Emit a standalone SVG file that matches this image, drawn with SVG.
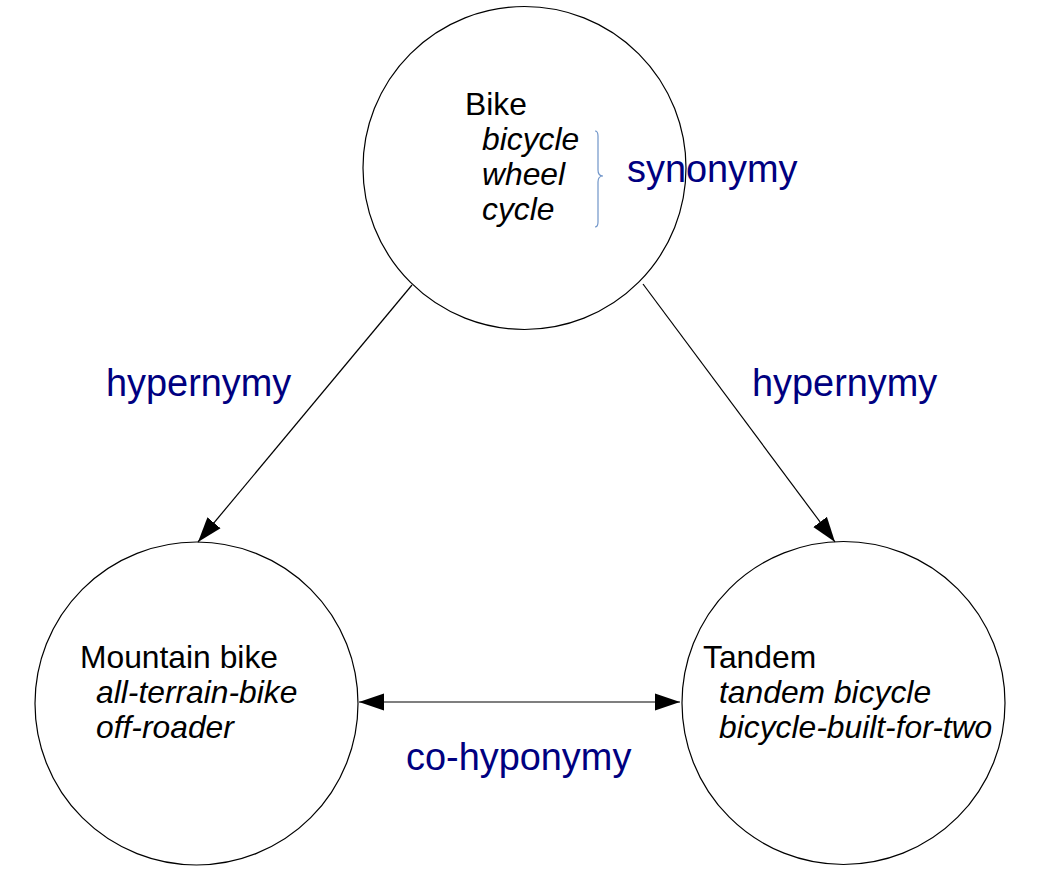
<svg xmlns="http://www.w3.org/2000/svg" width="1038" height="880" viewBox="0 0 1038 880">
<style>
.node{fill:#fff;stroke:#000;stroke-width:1.2}
.t{font-family:"Liberation Sans",Arial,sans-serif;font-size:31.8px;fill:#000}
.i{font-style:italic}
.lbl{font-family:"Liberation Sans",Arial,sans-serif;font-size:37.9px;fill:#000080}
.edge{stroke:#000;stroke-width:1.2;fill:none}
</style>
<defs>
<marker id="ah" markerUnits="userSpaceOnUse" markerWidth="26" markerHeight="18" refX="25" refY="8.5" orient="auto-start-reverse" viewBox="0 0 26 17">
<path d="M0,0 L25,8.5 L0,17 z" fill="#000"/>
</marker>
</defs>
<g id="bike">
<circle class="node" cx="524.5" cy="168" r="161.5"/>
<text class="t" x="465" y="115">Bike</text>
<text class="t i" x="482" y="150">bicycle</text>
<text class="t i" x="482" y="185">wheel</text>
<text class="t i" x="482" y="220">cycle</text>
<path d="M595,131 Q598,131 598,136 L598,170 Q598,176 603,176 Q598,176 598,182 L598,222 Q598,227 595,227" fill="none" stroke="#7095c9" stroke-width="1.2"/>
</g>
<g id="mountain">
<circle class="node" cx="196.5" cy="703.5" r="161.5"/>
<text class="t" x="80" y="668">Mountain bike</text>
<text class="t i" x="96" y="703">all-terrain-bike</text>
<text class="t i" x="96" y="738">off-roader</text>
</g>
<g id="tandem">
<circle class="node" cx="843.5" cy="703" r="161.5"/>
<text class="t" x="703" y="668">Tandem</text>
<text class="t i" x="719" y="703">tandem bicycle</text>
<text class="t i" x="719" y="738">bicycle-built-for-two</text>
</g>
<g id="connectors">
<line class="edge" x1="412" y1="285" x2="198" y2="542" marker-end="url(#ah)"/>
<line class="edge" x1="643" y1="284" x2="835" y2="542" marker-end="url(#ah)"/>
<line class="edge" x1="359" y1="702" x2="680" y2="702" marker-start="url(#ah)" marker-end="url(#ah)"/>
</g>
<g id="labels">
<text class="lbl" x="627" y="182">synonymy</text>
<text class="lbl" x="106" y="396">hypernymy</text>
<text class="lbl" x="752" y="396">hypernymy</text>
<text class="lbl" x="406" y="770">co-hyponymy</text>
</g>
</svg>
